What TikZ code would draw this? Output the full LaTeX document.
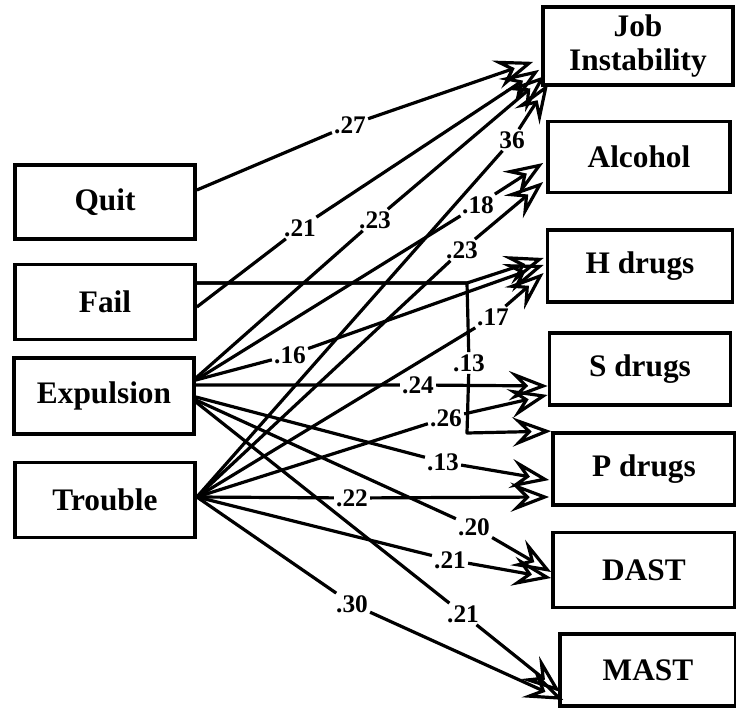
\documentclass[tikz,border=0pt]{standalone}
\usepackage{fontspec}
\setmainfont{Liberation Serif}
\usetikzlibrary{arrows.meta,calc}

\tikzset{
    box/.style={draw, line width=2.8pt, inner sep=0pt, align=center,
        font=\fontsize{23.5}{26}\selectfont\bfseries},
    wt/.style={inner sep=1.5pt, font=\fontsize{19}{19}\selectfont\bfseries},
    link/.style={line width=2.4pt, line join=round,
        -{Stealth[open,length=29pt,width=22pt,inset=11pt]}},
}

\begin{document}
\begin{tikzpicture}[x=0.75pt,y=-0.75pt]

    \useasboundingbox (0,0) rectangle (736,709);

    \foreach \name/\x/\y/\w/\h/\txt in {%
        quit/105/202/180/74/Quit, fail/105/302/180/75/Fail,
        expul/104/396/180/76/Expulsion, trouble/105/500/180/75/Trouble,
        job/638/46/190/78/{Job\\Instability}, alcohol/639/157/182/71/Alcohol,
        hdrugs/640/266/185/72/H drugs, sdrugs/640/369/181/72/S drugs,
        pdrugs/644/469/182/72/P drugs, dast/644/570/182/75/DAST,
        mast/648/670/176/72/MAST}{%
        \node[box, minimum width=0.75pt*\w, minimum height=0.75pt*\h]
            (\name) at (\x,\y) {\txt};
    }

    % path weights
    \foreach \name/\x/\y/\txt in {%
        qj/350/125/.27, fj/300/228/.21, ej/375/220/.23, tj/512/140/36,
        ea/478/205/.18, ta/462/250/.23, eh/290/355/.16, th/493/317/.17,
        fp/469/363/.13, es/418/385/.24, ts/446/418/.26, ep/443/462/.13,
        tp/352/498/.22, ed/474/527/.20, td/450/560/.21, em/463/614/.21,
        tm/352/604/.30}{%
        \node[wt] (\name) at (\x,\y) {\txt};
    }

    \coordinate (split) at (467,283);
    \coordinate (bend) at (467,433);

    \draw[link] ($(quit.east)+(0,-12)$) -- (qj) -- ($(job.south west)+(-8,-25)$);
    \draw[link] ($(fail.east)+(0,5)$) -- (fj) -- ($(job.south west)+(-2,-17)$);
    \draw[link] ($(fail.east)+(0,-19)$) -- (split) -- ($(hdrugs.west)+(-2,-8)$);
    \draw[link] ($(fail.east)+(0,-19)$) -- (split) -- (fp) -- (bend)
        -- (pdrugs.north west);

    \draw[link] ($(expul.east)+(0,-18)$) -- (ej) -- ($(job.south west)+(4,-11)$);
    \draw[link] ($(expul.east)+(0,-16)$) -- (ea) -- ($(alcohol.west)+(-3,6)$);
    \draw[link] ($(expul.east)+(0,-16)$) -- (eh) -- ($(hdrugs.west)+(-2,-1)$);
    \draw[link] ($(expul.east)+(0,-11)$) -- (es) -- ($(sdrugs.west)+(0,17)$);
    \draw[link] ($(expul.east)+(0,1)$) -- (ep) -- ($(pdrugs.west)+(-2,11)$);
    \draw[link] ($(expul.east)+(0,4)$) -- (ed) -- ($(dast.west)+(0,2)$);
    \draw[link] ($(expul.east)+(0,6)$) -- (em) -- ($(mast.south west)+(2,-16)$);

    \draw[link] ($(trouble.east)+(0,-3)$) -- (tj) -- ($(job.south west)+(7,-3)$);
    \draw[link] ($(trouble.east)+(0,-3)$) -- (ta) -- ($(alcohol.west)+(-3,25)$);
    \draw[link] ($(trouble.east)+(0,-3)$) -- (th) -- ($(hdrugs.west)+(-2,7)$);
    \draw[link] ($(trouble.east)+(0,-3)$) -- (ts) -- ($(sdrugs.west)+(0,26)$);
    \draw[link] ($(trouble.east)+(0,-3)$) -- (tp) -- ($(pdrugs.west)+(-2,28)$);
    \draw[link] ($(trouble.east)+(0,-3)$) -- (td) -- ($(dast.west)+(0,8)$);
    \draw[link] ($(trouble.east)+(0,-3)$) -- (tm) -- ($(mast.south west)+(5,-8)$);

\end{tikzpicture}
\end{document}
